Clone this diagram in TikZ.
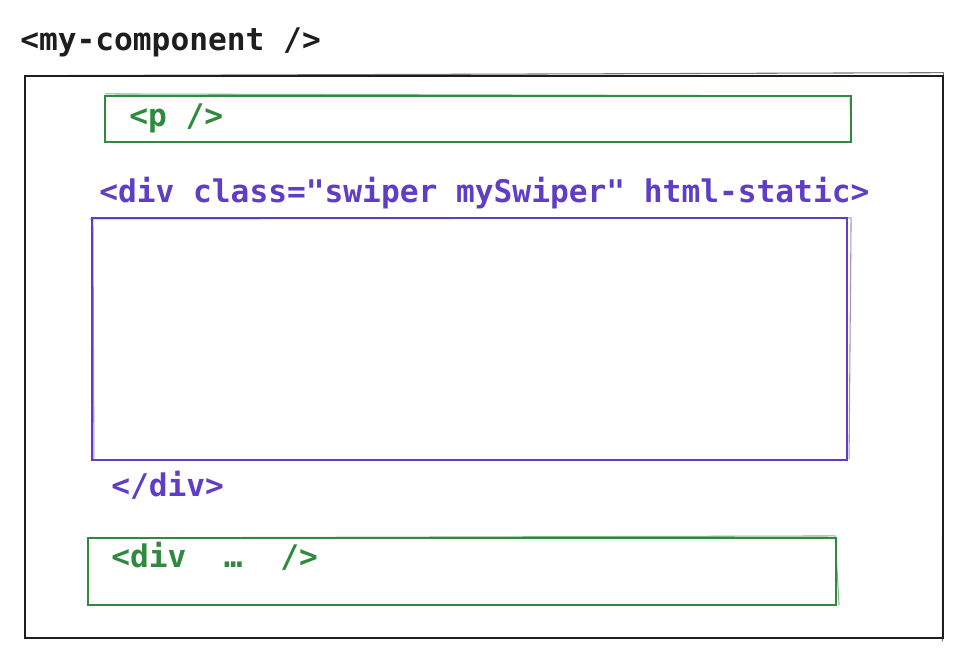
\documentclass[tikz,border=0pt]{standalone}
\usepackage{fontspec}
\setmonofont{DejaVu Sans Mono}
\usetikzlibrary{positioning,fit}
\definecolor{inkblack}{HTML}{1E1E1E}
\definecolor{inkgreen}{HTML}{2F8A40}
\definecolor{inkviolet}{HTML}{5F3DC4}
\tikzset{
  tagtxt/.style ={anchor=west, inner sep=0pt,
                  font=\ttfamily\bfseries\fontsize{23.4pt}{28pt}\selectfont},
  outerbox/.style={draw=inkblack, line width=2pt, inner sep=0pt},
  greenbox/.style={draw=inkgreen, line width=1.6pt, inner sep=0pt},
  violetbox/.style={draw=inkviolet, line width=1.6pt, inner sep=0pt},
  rough/.style   ={line width=0.8pt, opacity=0.6},
}
\begin{document}
\begin{tikzpicture}[x=0.75pt, y=-0.75pt]
  \useasboundingbox (0,0) rectangle (963,658);
  % outer component
  \node[tagtxt, text=inkblack] (comp) at (20,42) {<my-component />};
  \node[outerbox, fit={(25,76) (943,638)}] (body) {};
  \draw[rough, inkblack] ([shift={(2,1)}]body.north west) -- ([shift={(-1,-2)}]body.north east)
    -- ([shift={(-2,2)}]body.south east);
  % <p /> strip
  \node[greenbox, fit={(105,96) (851,142)}] (pbox) {};
  \draw[rough, inkgreen] ([shift={(1,-1)}]pbox.north west) -- ([shift={(-2,1)}]pbox.north east)
    -- ([shift={(-1,-1)}]pbox.south east);
  \node[tagtxt, text=inkgreen] (ptag) at (129,118) {<p />};
  % swiper container
  \node[tagtxt, text=inkviolet] (divopen) at (99,193) {<div class="swiper mySwiper" html-static>};
  \node[violetbox, fit={(92,218) (847,460)}] (swiper) {};
  \draw[rough, inkviolet] ([shift={(-1,2)}]swiper.north west) -- ([shift={(3,1)}]swiper.north east)
    -- ([shift={(1,-2)}]swiper.south east);
  \draw[rough, inkviolet] ([shift={(3,-2)}]swiper.south west) -- ([shift={(2,2)}]swiper.north west);
  \node[tagtxt, text=inkviolet] (divclose) at (111,485) {</div>};
  % trailing div
  \node[greenbox, fit={(88,538) (836,605)}] (divbox) {};
  \draw[rough, inkgreen] ([shift={(1,1)}]divbox.north west) -- ([shift={(-2,-1)}]divbox.north east)
    -- ([shift={(2,-1)}]divbox.south east);
  \node[tagtxt, text=inkgreen] (divtag) at (111,556) {<div\ \ …\ \ />};
\end{tikzpicture}
\end{document}
